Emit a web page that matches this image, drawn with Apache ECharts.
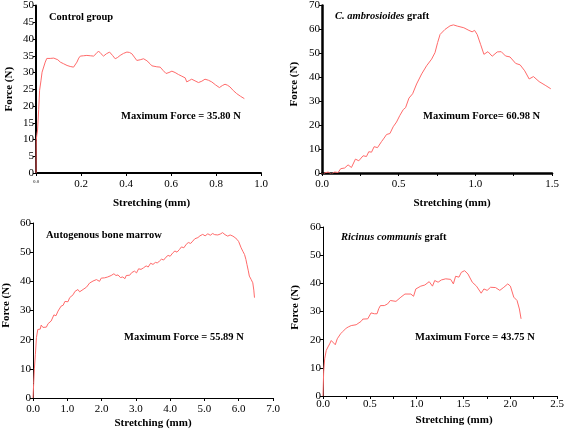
<!DOCTYPE html>
<html>
<head>
<meta charset="utf-8">
<script src="https://cdn.jsdelivr.net/npm/echarts@6/dist/echarts.min.js"></script>
<style>html,body{margin:0;padding:0;background:#fff}#c{width:567px;height:431px}</style>
</head>
<body>
<div id="c"></div>
<script>
// ---- Data ----
const controlX = [0,0.001,0.004,0.007,0.012,0.016,0.022,0.027,0.034,0.041,0.048,0.056,0.063,0.071,0.079,0.086,0.097,0.108,0.123,0.138,0.152,0.167,0.175,0.182,0.19,0.197,0.212,0.226,0.241,0.256,0.267,0.278,0.289,0.3,0.313,0.327,0.34,0.352,0.363,0.374,0.389,0.404,0.415,0.426,0.437,0.448,0.463,0.478,0.493,0.507,0.515,0.522,0.537,0.552,0.565,0.578,0.591,0.604,0.618,0.633,0.648,0.663,0.67,0.681,0.692,0.707,0.722,0.737,0.751,0.766,0.781,0.798,0.815,0.828,0.84,0.851,0.862,0.877,0.892,0.909,0.926];
const controlY = [0,9.8,11.5,12.8,19,24.7,27.5,30.1,30.5,33.1,34.2,34.6,34.2,34.1,34.3,34.4,33.8,33.1,32.6,32.1,31.8,31.6,31.9,33.1,34.3,34.9,35.0,35.1,35.0,34.9,35.6,36.4,35.6,34.9,35.6,36.1,35.1,34.1,34.5,35.1,35.7,36.1,36.0,35.6,34.6,33.6,33.8,34.1,33.5,32.6,32.0,31.6,31.7,31.6,30.6,29.7,30.0,30.4,30.0,29.4,28.9,28.4,27.2,27.6,28.0,27.5,27.0,27.4,28.0,27.7,27.2,26.3,25.5,26.1,26.5,26.2,25.7,24.6,23.7,22.9,22.2];

const ambroX = [0,0.005,0.015,0.04,0.061,0.083,0.094,0.105,0.122,0.148,0.17,0.192,0.218,0.24,0.268,0.29,0.305,0.323,0.34,0.362,0.388,0.405,0.421,0.443,0.464,0.486,0.508,0.53,0.545,0.567,0.591,0.617,0.65,0.682,0.715,0.737,0.754,0.77,0.802,0.835,0.857,0.882,0.925,0.958,0.979,0.995,1.012,1.034,1.056,1.082,1.11,1.143,1.169,1.197,1.226,1.263,1.292,1.322,1.351,1.379,1.416,1.46,1.492];
const ambroY = [0,-3.5,0,0.4,-0.4,0.4,0,0.2,1.8,2.1,3.4,2.3,5.8,5.1,7.2,6.9,8.9,8.7,11.0,10.6,13.1,14.6,16.1,16.5,19.3,21.3,24.1,26.5,27.3,31.3,33.1,37.2,41.4,44.8,47.6,50.3,54.5,57.9,60.0,61.5,61.9,61.4,60.7,59.6,59.0,59.6,57.9,53.8,49.6,50.7,48.8,50.6,50.7,48.9,48.5,45.8,45.2,42.7,39.3,40.3,38.2,36.5,35.2];

const marrowX = [0,0.02,0.04,0.07,0.1,0.14,0.17,0.21,0.24,0.29,0.34,0.39,0.44,0.49,0.53,0.57,0.61,0.67,0.73,0.77,0.82,0.88,0.93,0.97,1.02,1.07,1.12,1.17,1.22,1.27,1.31,1.36,1.41,1.46,1.51,1.56,1.6,1.65,1.7,1.75,1.8,1.85,1.89,1.94,1.99,2.04,2.09,2.14,2.18,2.23,2.28,2.36,2.42,2.48,2.55,2.62,2.68,2.72,2.77,2.82,2.88,2.96,3.02,3.08,3.15,3.22,3.3,3.36,3.43,3.5,3.57,3.63,3.69,3.75,3.81,3.88,3.94,4.0,4.08,4.14,4.2,4.27,4.33,4.4,4.47,4.53,4.6,4.66,4.72,4.77,4.81,4.87,4.91,4.95,5.02,5.1,5.17,5.24,5.3,5.39,5.46,5.53,5.6,5.68,5.75,5.83,5.89,5.95,6.0,6.07,6.12,6.17,6.21,6.24,6.28,6.31,6.36,6.41,6.44,6.46];
const marrowY = [0,5,10,15,20.7,23.5,24.1,23.6,25.0,24.2,24.7,24.3,25.5,25.0,26.4,27.0,28.5,28.2,29.8,30.3,31.5,31.8,33.1,33.5,33.0,34.4,35.0,35.4,36.5,36.1,37.2,36.4,37.0,37.2,36.6,38.0,38.4,39.4,38.8,40.1,39.5,40.6,40.7,40.0,41.1,40.5,41.2,40.9,41.5,41.0,42.0,42.6,42.0,42.2,41.3,41.5,40.9,42.0,42.6,42.1,43.0,43.5,42.9,44.3,44.1,44.6,45.3,44.9,46.2,45.8,46.5,46.3,47.0,47.6,47.3,48.3,48.9,48.6,49.8,50.4,50.0,50.9,51.8,51.5,52.7,53.3,53.0,53.8,54.6,54.2,55.0,55.6,55.2,56.1,55.6,56.3,55.8,56.4,56.0,55.9,56.2,56.7,56.0,55.5,55.9,55.5,55.0,54.4,53.6,51.5,50.3,49.2,47.5,45.8,43.6,41.8,40.7,39.5,37.0,34.4];

const ricinusX = [0,0.007,0.018,0.035,0.053,0.071,0.088,0.106,0.131,0.152,0.17,0.188,0.212,0.248,0.275,0.301,0.354,0.407,0.425,0.443,0.478,0.513,0.549,0.577,0.595,0.613,0.655,0.69,0.719,0.779,0.832,0.875,0.938,0.967,0.991,1.044,1.087,1.134,1.169,1.193,1.229,1.264,1.31,1.363,1.392,1.416,1.452,1.477,1.512,1.548,1.594,1.639,1.689,1.718,1.753,1.789,1.842,1.888,1.931,1.973,2.001,2.037,2.072,2.097,2.115];
const ricinusY = [0,8.5,13.2,16.2,17.4,18.5,19.7,19.1,18.2,20.3,21.0,22.1,22.9,24.1,24.6,25.0,25.3,26.5,27.3,28.0,27.4,29.5,29.2,29.2,31.0,32.1,32.1,32.7,33.9,33.6,35.1,36.2,36.2,35.4,38.0,39.0,39.4,40.6,39.0,41.0,40.4,41.2,41.6,41.4,39.8,42.5,42.2,43.9,44.5,43.3,40.4,39.0,36.5,38.0,37.5,38.6,38.5,37.5,38.6,39.8,39.0,35.1,33.9,30.9,27.4];

const panelTitles = ['Control group', 'C. ambrosioides', 'Autogenous bone marrow', 'Ricinus communis'];
const maxLabels = ['Maximum Force = 35.80 N', 'Maximum Force= 60.98 N', 'Maximum Force = 55.89 N', 'Maximum Force = 43.75 N'];

// ---- Chart ----
const FONT = '"Liberation Serif", "DejaVu Serif", serif';
const LINE = '#ff6a6a';
const pairs = (xs, ys) => xs.map((x, i) => [x, ys[i]]);

const grids = [
  {left: 36, top: 5, width: 225, height: 168},
  {left: 322, top: 4, width: 230, height: 169},
  {left: 33, top: 223, width: 240, height: 175},
  {left: 323, top: 227, width: 235, height: 169}
];

function xAxis(gi, max, interval, lw, minor, fmt, margin, gap, shift) {
  return {
    type: 'value', gridIndex: gi, min: 0, max: max, interval: interval,
    name: 'Stretching (mm)', nameLocation: 'middle', nameGap: gap,
    nameTextStyle: {fontFamily: FONT, fontWeight: 'bold', fontSize: 11, color: '#000',
      padding: [0, 0, 0, shift * 2]},
    axisLine: {show: true, onZero: false, lineStyle: {color: '#000', width: lw}},
    axisTick: {show: true, length: 3, lineStyle: {color: '#000', width: 1}},
    minorTick: {show: minor, splitNumber: 2, length: 3, lineStyle: {color: '#000', width: 1}},
    axisLabel: {fontFamily: FONT, fontSize: 11, color: '#000', margin: margin, formatter: fmt,
      rich: {s: {fontFamily: FONT, fontSize: 5, color: '#000'}}},
    splitLine: {show: false}
  };
}
function yAxis(gi, max, interval, lw, gap, up) {
  return {
    type: 'value', gridIndex: gi, min: 0, max: max, interval: interval,
    name: 'Force (N)', nameLocation: 'middle', nameGap: gap, nameRotate: 90,
    nameTextStyle: {fontFamily: FONT, fontWeight: 'bold', fontSize: 11, color: '#000',
      padding: [0, 0, 0, up * 2]},
    axisLine: {show: true, lineStyle: {color: '#000', width: lw}},
    axisTick: {show: true, length: 3, lineStyle: {color: '#000', width: 1}},
    axisLabel: {fontFamily: FONT, fontSize: 11, color: '#000', margin: 2},
    splitLine: {show: false}
  };
}
const f1 = v => v === 0 ? '{s|0.0}' : v.toFixed(1);
const f = v => v.toFixed(1);

function series(gi, xs, ys) {
  return {type: 'line', xAxisIndex: gi, yAxisIndex: gi, data: pairs(xs, ys),
    showSymbol: false, symbol: 'none', smooth: false, animation: false,
    lineStyle: {color: LINE, width: 1}};
}

const TF = 'bold 10.5px ' + FONT;
function txt(x, y, text, rich) {
  const st = {text: text, x: x, y: y, fill: '#000', font: TF, verticalAlign: 'middle', align: 'left'};
  if (rich) st.rich = rich;
  return {type: 'text', style: st, z: 100};
}
const ital = {i: {fontFamily: FONT, fontStyle: 'italic', fontWeight: 'bold', fontSize: 10.5, fill: '#000'},
              n: {fontFamily: FONT, fontWeight: 'bold', fontSize: 10.5, fill: '#000'}};

const option = {
  animation: false,
  backgroundColor: '#fff',
  grid: grids,
  xAxis: [
    xAxis(0, 1.0, 0.2, 2, false, f1, 6, 25, 3),
    xAxis(1, 1.5, 0.5, 2.5, true, f, 6, 25, 15),
    xAxis(2, 7.0, 1.0, 1, false, f, 6, 20, 0),
    xAxis(3, 2.5, 0.5, 1, true, f, 3, 19, 14)
  ],
  yAxis: [
    yAxis(0, 50, 5, 2, 21, 0),
    yAxis(1, 70, 10, 2.5, 22, 5),
    yAxis(2, 60, 10, 1, 21, 5),
    yAxis(3, 60, 10, 1, 22, 4)
  ],
  series: [
    series(0, controlX, controlY),
    series(1, ambroX, ambroY),
    series(2, marrowX, marrowY),
    series(3, ricinusX, ricinusY)
  ],
  graphic: [
    txt(49, 17, panelTitles[0]),
    txt(121, 116, maxLabels[0]),
    txt(335, 16, '{i|' + panelTitles[1] + '}{n| graft}', ital),
    txt(423, 116, maxLabels[1]),
    txt(46, 235, panelTitles[2]),
    txt(124, 337, maxLabels[2]),
    txt(341, 237, '{i|' + panelTitles[3] + '}{n| graft}', ital),
    txt(415, 337, maxLabels[3])
  ]
};
const chart = echarts.init(document.getElementById('c'), null, {renderer: 'canvas'});
chart.setOption(option);
</script>
</body>
</html>
